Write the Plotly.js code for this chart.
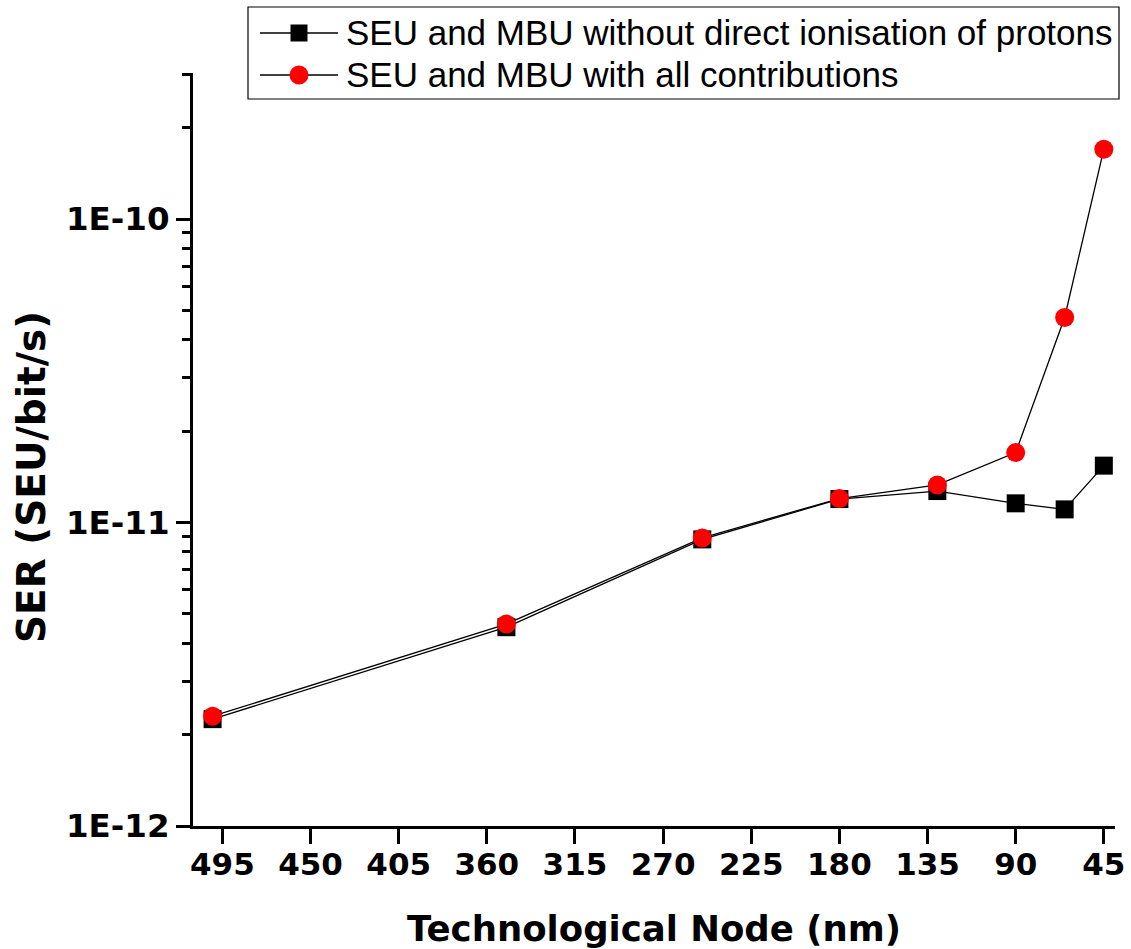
<!DOCTYPE html>
<html>
<head>
<meta charset="utf-8">
<script src="https://cdn.plot.ly/plotly-3.0.1.min.js"></script>
<style>html,body{margin:0;padding:0;background:#fff;}#chart{width:1131px;height:949px;}</style>
</head>
<body>
<div id="chart"></div>
<script>
// Data (technology node in nm, SER in SEU/bit/s)
const nodes = [500, 350, 250, 180, 130, 90, 65, 45];
const serWithoutDirect = [2.25e-12, 4.52e-12, 8.8e-12, 1.195e-11, 1.27e-11, 1.157e-11, 1.105e-11, 1.54e-11];
const serAllContrib = [2.3e-12, 4.63e-12, 8.9e-12, 1.2e-11, 1.33e-11, 1.70e-11, 4.74e-11, 1.70e-10];
const seriesNames = ["SEU and MBU without direct ionisation of protons", "SEU and MBU with all contributions"];
const xTickVals = [495, 450, 405, 360, 315, 270, 225, 180, 135, 90, 45];
const yTickVals = [1e-12, 1e-11, 1e-10];
const yTickText = ["1E-12", "1E-11", "1E-10"];
const xTitle = 'Technological Node (nm)';
const yTitle = 'SER (SEU/bit/s)';

const W = 1131, H = 949;
const M = {l: 193, r: 16, t: 73, b: 123};
const PW = W - M.l - M.r, PH = H - M.t - M.b;
const px = p => (p - M.l) / PW;
const py = p => (H - M.b - p) / PH;

const traces = [
  {x: nodes, y: serWithoutDirect, name: seriesNames[0], type: 'scatter', mode: 'lines+markers',
   line: {color: '#000', width: 1.3},
   marker: {symbol: 'square', size: 18, color: '#000', line: {width: 0}}},
  {x: nodes, y: serAllContrib, name: seriesNames[1], type: 'scatter', mode: 'lines+markers',
   line: {color: '#000', width: 1.3},
   marker: {symbol: 'circle', size: 19, color: '#ff0000', line: {width: 0}}}
];

const xTickFont = {family: 'DejaVu Sans', size: 31, color: '#000', weight: 'bold'};
const yTickFont = {family: 'DejaVu Sans', size: 32.5, color: '#000', weight: 'bold'};
const xTitleFont = {family: 'DejaVu Sans', size: 35.5, color: '#000', weight: 'bold'};
const yTitleFont = {family: 'DejaVu Sans', size: 39, color: '#000', weight: 'bold'};
const legFont = {family: 'Liberation Sans, Arial', size: 35, color: '#000'};

const shapes = [
  {type: 'rect', xref: 'paper', yref: 'paper', x0: px(248), x1: px(1119), y0: py(99), y1: py(7),
   line: {color: '#000', width: 1.2}, fillcolor: '#fff', layer: 'above'},
  {type: 'line', xref: 'paper', yref: 'paper', x0: px(260), x1: px(338), y0: py(33), y1: py(33), line: {color: '#000', width: 1.3}},
  {type: 'rect', xref: 'paper', yref: 'paper', x0: px(290.5), x1: px(307.5), y0: py(41.5), y1: py(24.5), line: {width: 0}, fillcolor: '#000'},
  {type: 'line', xref: 'paper', yref: 'paper', x0: px(260), x1: px(338), y0: py(75), y1: py(75), line: {color: '#000', width: 1.3}},
  {type: 'circle', xref: 'paper', yref: 'paper', x0: px(289.5), x1: px(308.5), y0: py(84.5), y1: py(65.5), line: {width: 0}, fillcolor: '#ff0000'}
];

const annotations = [
  {xref: 'paper', yref: 'paper', x: px(344), y: py(32), xanchor: 'left', yanchor: 'middle', showarrow: false, text: seriesNames[0], font: legFont},
  {xref: 'paper', yref: 'paper', x: px(344), y: py(74), xanchor: 'left', yanchor: 'middle', showarrow: false, text: seriesNames[1], font: legFont},
  {xref: 'paper', yref: 'paper', x: px(31), y: py(477), xanchor: 'center', yanchor: 'middle', showarrow: false, textangle: -90, text: yTitle, font: yTitleFont}
];

const layout = {
  width: W, height: H,
  margin: M,
  paper_bgcolor: '#fff', plot_bgcolor: '#fff',
  showlegend: false,
  xaxis: {
    range: [510, 39.3],
    tickmode: 'array', tickvals: xTickVals, ticktext: xTickVals.map(String),
    ticks: 'outside', ticklen: 15, tickwidth: 3, tickcolor: '#000',
    showline: true, linewidth: 3, linecolor: '#000',
    showgrid: false, zeroline: false,
    tickfont: xTickFont, ticklabelstandoff: -6,
    title: {text: xTitle, font: xTitleFont, standoff: 36}
  },
  yaxis: {
    type: 'log',
    range: [-12, Math.log10(3.03e-10)],
    tickmode: 'array', tickvals: yTickVals, ticktext: yTickText,
    ticks: 'outside', ticklen: 14, tickwidth: 3, tickcolor: '#000',
    minor: {ticks: 'outside', ticklen: 8, tickwidth: 3, tickcolor: '#000', dtick: 'D1', showgrid: false},
    showline: true, linewidth: 3, linecolor: '#000',
    showgrid: false, zeroline: false,
    tickfont: yTickFont, ticklabelstandoff: 0
  },
  shapes: shapes,
  annotations: annotations
};

Plotly.newPlot('chart', traces, layout, {displayModeBar: false, staticPlot: true});
</script>
</body>
</html>
